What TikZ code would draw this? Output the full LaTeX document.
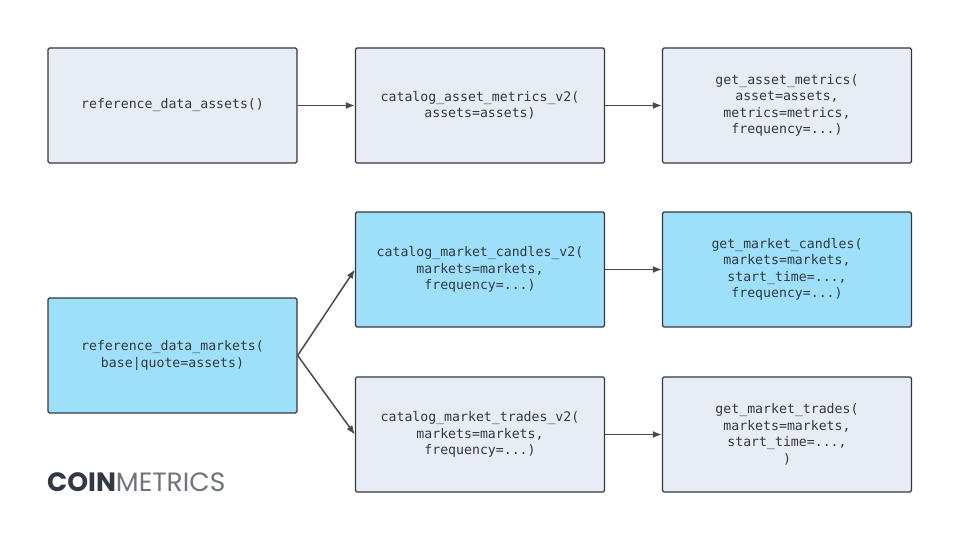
\documentclass[tikz,border=0pt]{standalone}
\usepackage{fontspec}
\setmonofont{DejaVu Sans Mono}
\newfontfamily\logofont{Poppins}
\usetikzlibrary{arrows.meta}
\definecolor{bx}{HTML}{E8ECF4}
\definecolor{bl}{HTML}{9EE0F9}
\definecolor{ed}{HTML}{333845}
\definecolor{ar}{HTML}{4A4A4A}
\begin{document}
\begin{tikzpicture}[x=1pt,y=-1pt,
 box/.style={draw=ed,line width=1.3pt,rounded corners=1.5pt,fill=bx,minimum width=249pt,minimum height=115pt,font=\ttfamily\fontsize{13.2}{16.5}\selectfont,text=ed,align=center},
 blu/.style={box,fill=bl},
 arr/.style={draw=ar,line width=1.5pt,-{Latex[length=9pt,width=7pt]}}]
\useasboundingbox (0,0) rectangle (960,540);
\fill[white] (0,0) rectangle (960,540);
\node[box] (a1) at (172.5,105.5) {reference\_data\_assets()};
\node[box] (a2) at (480,105.5) {catalog\_asset\_metrics\_v2(\\assets=assets)};
\node[box] (a3) at (787,105.5) {get\_asset\_metrics(\\asset=assets,\\metrics=metrics,\\frequency=...)};
\node[blu] (m) at (172.5,355.5) {reference\_data\_markets(\\base|quote=assets)};
\node[blu] (c1) at (480,269.5) {catalog\_market\_candles\_v2(\\markets=markets,\\frequency=...)};
\node[blu] (c2) at (787,269.5) {get\_market\_candles(\\markets=markets,\\start\_time=...,\\frequency=...)};
\node[box] (t1) at (480,434.5) {catalog\_market\_trades\_v2(\\markets=markets,\\frequency=...)};
\node[box] (t2) at (787,434.5) {get\_market\_trades(\\markets=markets,\\start\_time=...,\\)};
\draw[arr] (a1) -- (a2);
\draw[arr] (a2) -- (a3);
\draw[arr] (c1) -- (c2);
\draw[arr] (t1) -- (t2);
\draw[arr] (m.east) -- (c1.west);
\draw[arr] (m.east) -- (t1.west);
\node[anchor=base west,inner sep=0pt,font=\logofont\fontsize{26.5}{26}\selectfont] (logo) at (47,491) {\textcolor{ed}{\bfseries COIN}\textcolor{ed!70}{METRICS}};
\end{tikzpicture}
\end{document}
